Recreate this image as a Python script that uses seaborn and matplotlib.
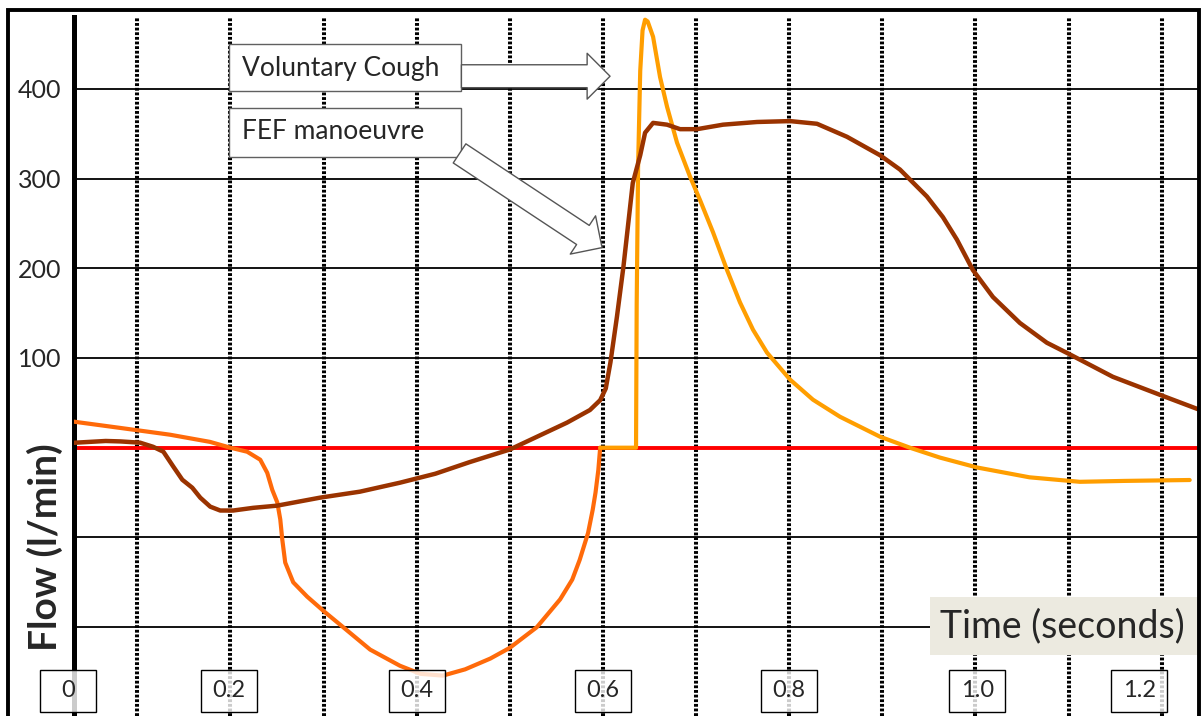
import matplotlib
matplotlib.use("Agg")
from matplotlib import pyplot as plt
from matplotlib.patches import Rectangle
from matplotlib.transforms import blended_transform_factory
import pandas as pd
import seaborn as sns

sns.set_style("white")
plt.rcParams['font.family'] = ['Lato', 'DejaVu Sans']

# FEF manoeuvre (brown)
fef_t = [0.032, 0.066, 0.082, 0.103, 0.117, 0.128, 0.1386, 0.1483, 0.159, 0.1676, 0.1783, 0.189,
         0.203, 0.2245, 0.250, 0.296, 0.339, 0.382, 0.420, 0.457, 0.500, 0.5615, 0.586, 0.597,
         0.603, 0.608, 0.615, 0.622, 0.632, 0.640, 0.6452, 0.6538, 0.6688, 0.6828, 0.701, 0.7289,
         0.7654, 0.8008, 0.8298, 0.862, 0.8974, 0.9189, 0.9478, 0.965, 0.980, 0.9972, 1.0187,
         1.0477, 1.0766, 1.1013, 1.1475, 1.1979, 1.240]
fef_flow = [5.5, 7.5, 7, 5.6, 1, -4.5, -21, -35.7, -44.6, -55.7, -65.7, -70,
            -70, -67, -64.6, -55.7, -49, -39, -29, -16, -2, 28, 42, 53,
            66, 95, 146, 202, 295, 326, 351, 362, 360, 355, 355, 360,
            363, 364, 361, 346.5, 326, 310, 280, 257, 232, 198, 168,
            139, 117, 104, 79, 59, 42.5]

# inspiration before the cough (orange)
insp_t = [0.032, 0.082, 0.135, 0.178, 0.200, 0.218, 0.232, 0.2395, 0.2449, 0.2503, 0.2535, 0.2556,
          0.2588, 0.2674, 0.2824, 0.300, 0.321, 0.350, 0.382, 0.404, 0.428, 0.452, 0.479, 0.500,
          0.529, 0.554, 0.567, 0.575, 0.584, 0.589, 0.592, 0.595, 0.597]
insp_flow = [29, 22, 14.5, 6.5, 0, -4.5, -13.4, -28, -47, -61, -80, -102,
             -128, -150, -166, -182, -200, -225, -243, -252, -254, -247, -235, -223,
             -200, -169, -147, -125, -95, -69, -50, -25, 0]

# voluntary cough (yellow-orange)
cough_t = [0.597, 0.6355, 0.6362, 0.6377, 0.640, 0.6425, 0.6452, 0.648, 0.6538, 0.6613, 0.6688,
           0.6795, 0.6935, 0.7042, 0.7182, 0.7332, 0.7471, 0.7611, 0.7761, 0.8008, 0.8255, 0.8545,
           0.8974, 0.9296, 0.9618, 1.0015, 1.058, 1.112, 1.160, 1.230]
cough_flow = [0, 0, 160, 313, 420, 465, 477, 475, 458, 413, 380,
              340, 302, 276, 240, 198, 162, 131.5, 106, 76, 53.5, 34.5,
              12.3, 0, -11, -22, -33, -38, -37, -36]

y_ticks = [100, 200, 300, 400]
grid_levels = [-200, -100, 100, 200, 300, 400]
dotted_t = [0.1, 0.2, 0.3, 0.4, 0.5, 0.6, 0.7, 0.8, 0.9, 1.0, 1.1, 1.2]
x_labels = ['0', '0.2', '0.4', '0.6', '0.8', '1.0', '1.2']
# the boxes sit where the original drew them (not exactly on the lines)
x_label_pos = [0.026, 0.198, 0.400, 0.600, 0.800, 1.002, 1.176]

fig = plt.figure(figsize=(12.03, 7.16), dpi=100)
ax = fig.add_axes([74 / 1203, 0, 1125 / 1203, 699 / 716])
ax.set_xlim(0.032, 1.240)
ax.set_ylim(-299, 480)

for v in grid_levels:
    ax.axhline(v, color='black', lw=1.3, zorder=1)
for t in dotted_t:
    ax.axvline(t, color='black', lw=2.9, linestyle=(0, (0.7, 0.45)), zorder=1)
ax.axhline(0, color='#FF0000', lw=2.8, zorder=2)

df_fef = pd.DataFrame({'t': fef_t, 'flow': fef_flow})
df_insp = pd.DataFrame({'t': insp_t, 'flow': insp_flow})
df_cough = pd.DataFrame({'t': cough_t, 'flow': cough_flow})
line_kw = dict(sort=False, estimator=None, solid_joinstyle='round', solid_capstyle='round')
sns.lineplot(data=df_insp, x='t', y='flow', ax=ax, color='#FF6A0A', lw=3, zorder=3, **line_kw)
sns.lineplot(data=df_cough, x='t', y='flow', ax=ax, color='#FF9E00', lw=3, zorder=3, **line_kw)
sns.lineplot(data=df_fef, x='t', y='flow', ax=ax, color='#9A3300', lw=3.2, zorder=4, **line_kw)

ax.set_xlabel('')
ax.set_ylabel('')
ax.set_xticks([])
ax.set_yticks(y_ticks)
ax.set_yticklabels([str(v) for v in y_ticks])
ax.tick_params(axis='y', length=0, pad=9, labelsize=18)
for s in ['top', 'right', 'bottom']:
    ax.spines[s].set_visible(False)
ax.spines['left'].set_linewidth(3.6)
ax.spines['left'].set_color('black')

trans = blended_transform_factory(ax.transData, ax.transAxes)
for lab, pos in zip(x_labels, x_label_pos):
    ax.add_patch(Rectangle((pos - 0.030, 0.0057), 0.060, 0.060, transform=trans,
                           fc=(1, 1, 1, 0.8), ec='black', lw=1, zorder=6, clip_on=False))
    ax.text(pos, 0.036, lab, transform=trans, ha='center', va='center', fontsize=17, zorder=7, clip_on=False)

# axis title box
ax.add_patch(Rectangle((0.951, 0.0873), 0.30, 0.083, transform=trans, fc='#ECEAE0', ec='none', zorder=6))
ax.text(0.9615, 0.129, 'Time (seconds)', transform=trans, ha='left', va='center', fontsize=27, zorder=7)

# annotations
ax.add_patch(Rectangle((0.198, 397), 0.250, 53, fc='white', ec='#606060', lw=1, zorder=6))
ax.text(0.2127, 423, 'Voluntary Cough', ha='left', va='center', fontsize=19, zorder=7)
ax.add_patch(Rectangle((0.198, 324), 0.250, 55, fc='white', ec='#606060', lw=1, zorder=6))
ax.text(0.2127, 352, 'FEF manoeuvre', ha='left', va='center', fontsize=19, zorder=7)

arrow = dict(arrowstyle='simple,head_length=1.0,head_width=2.0,tail_width=1.0', mutation_scale=16.5,
             fc='white', ec='#555555', lw=1, shrinkA=0, shrinkB=0)
ax.annotate('', xy=(0.6076, 414), xytext=(0.448, 414), arrowprops=arrow, zorder=6)
ax.annotate('', xy=(0.599, 223), xytext=(0.446, 328), arrowprops=arrow, zorder=6)

fig.text(45 / 1203, 1 - 547 / 716, 'Flow (l/min)', rotation=90, fontsize=28, fontweight='bold',
         ha='center', va='center')

# outer frame of the original picture
fig.add_artist(Rectangle((8 / 1203, -0.1), 1191 / 1203, 1.086, transform=fig.transFigure,
                         fill=False, ec='black', lw=2.8))

fig.savefig('out.png', dpi=100)
